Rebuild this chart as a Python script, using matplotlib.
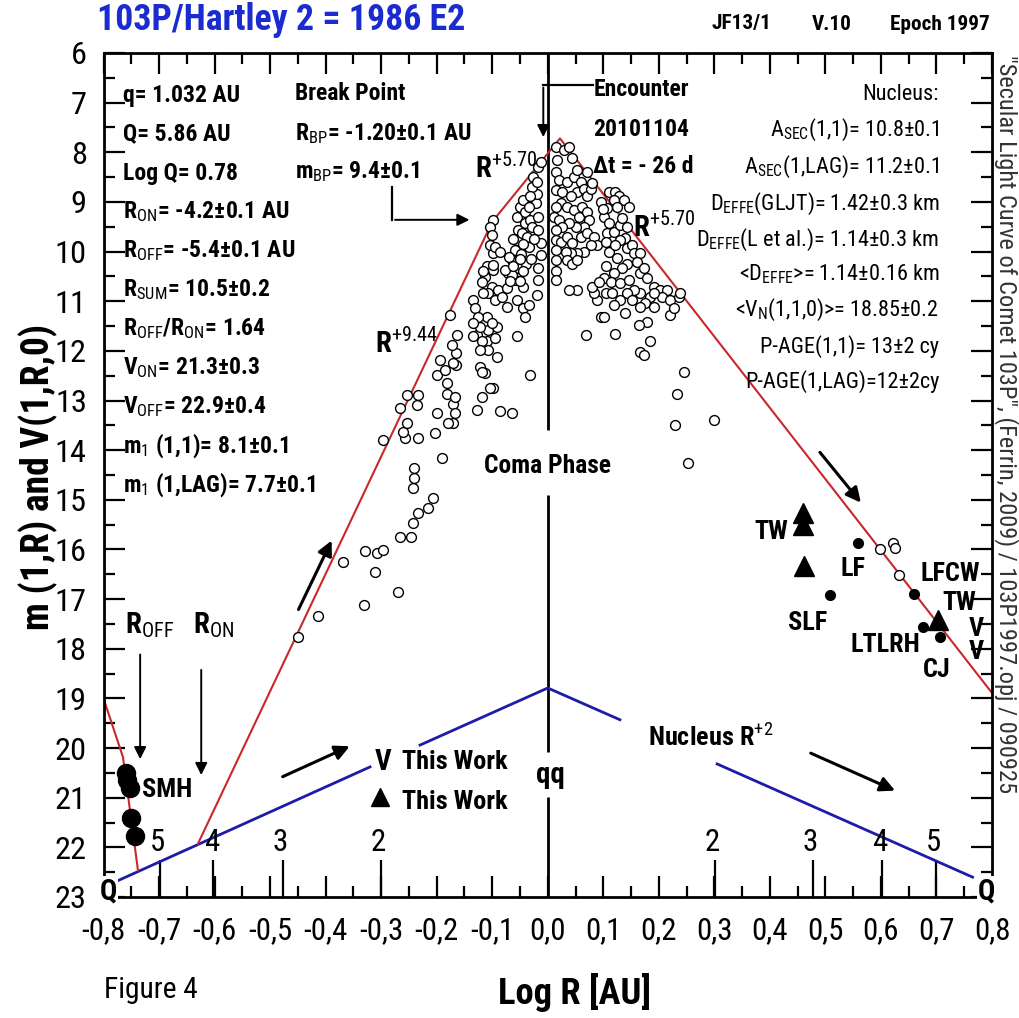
import math
import matplotlib
matplotlib.use("Agg")
import matplotlib.pyplot as plt
from matplotlib import font_manager
from matplotlib.ticker import MultipleLocator, FuncFormatter

# pick a narrow sans font if one is available (the original uses Arial Narrow)
entries = font_manager.fontManager.ttflist
names = {f.name for f in entries}
COND = ("ultra-condensed", "extra-condensed", "condensed", "semi-condensed")
FAMILY, STRETCH = "Liberation Sans", "normal"
for nm in ("Liberation Sans Narrow", "Arial Narrow", "Roboto Condensed",
           "Open Sans Condensed", "Noto Sans Condensed"):
    if nm in names:
        FAMILY, STRETCH = nm, "normal"
        break
else:
    for nm in ("Noto Sans", "Roboto", "Open Sans", "Liberation Sans", "DejaVu Sans"):
        cands = [f for f in entries if f.name == nm and str(f.stretch) in COND]
        if cands:
            FAMILY, STRETCH = nm, str(cands[0].stretch)
            break

plt.rcParams["font.family"] = [FAMILY, "DejaVu Sans"]
plt.rcParams["font.stretch"] = STRETCH
plt.rcParams["mathtext.fontset"] = "custom"
plt.rcParams["mathtext.rm"] = FAMILY
plt.rcParams["mathtext.it"] = FAMILY + ":italic"
plt.rcParams["mathtext.bf"] = FAMILY + ":bold"
plt.rcParams["mathtext.sf"] = FAMILY

# observed magnitudes (open circles), log R vs m(1,R)
obs_logr = [
    -0.449, -0.413, -0.369, -0.331, -0.329, -0.311, -0.308, -0.297, -0.269, -0.266,
    -0.246, -0.242, -0.233, -0.215, -0.207, -0.242, -0.240, -0.240, -0.191, -0.296,
    -0.233, -0.257, -0.260, -0.254, -0.266, -0.253, -0.233, -0.236, -0.203, -0.200,
    -0.200, -0.185, -0.194, -0.182, -0.182, -0.170, -0.167, -0.170, -0.179, -0.167,
    -0.165, -0.165, -0.164, -0.173, -0.176, -0.134, -0.131, -0.128, -0.122, -0.127,
    -0.119, -0.113, -0.098, -0.092, -0.110, -0.113, -0.101, -0.107, -0.110, -0.107,
    -0.110, -0.107, -0.095, -0.092, -0.095, -0.098, -0.122, -0.125, -0.134, -0.119,
    -0.098, -0.170, -0.134, -0.122, -0.119, -0.086, -0.065, -0.056, -0.044,
    -0.041, -0.032, -0.071, -0.104, -0.101, -0.044, -0.074, -0.028,
    -0.098, -0.104, -0.101, -0.104, -0.095, -0.086, -0.116, -0.098, -0.119, -0.089,
    -0.116, -0.083, -0.074, -0.065, -0.059, -0.056, -0.053, -0.056, -0.050, -0.044,
    -0.041, -0.041, -0.046, -0.037, -0.032, -0.028, -0.034, -0.022, -0.019, -0.028,
    -0.026, -0.017, -0.013, -0.019, -0.032, -0.034, -0.017, -0.017, -0.013, -0.013,
    -0.017, -0.017, -0.019, -0.053, -0.059, -0.065, -0.077, -0.056, -0.034,
    -0.062, -0.048, -0.040, -0.030, -0.045, -0.068, -0.025, -0.050,
    -0.070, -0.062, -0.050, -0.044,
    0.014, 0.029, 0.038, 0.044, 0.017, 0.014, 0.020, 0.014, 0.026, 0.035,
    0.047, 0.059, 0.071, 0.053, 0.053, 0.041, 0.065, 0.071, 0.023, 0.014,
    0.011, 0.020, 0.035, 0.047, 0.056, 0.062, 0.071, 0.074, 0.065, 0.050,
    0.038, 0.026, 0.014, 0.014, 0.023, 0.035, 0.044, 0.059, 0.071, 0.083,
    0.089, 0.077, 0.065, 0.053, 0.041, 0.032, 0.035, 0.044, 0.053, 0.014,
    0.014, 0.014, 0.014, 0.053, 0.077, 0.080,
    0.110, 0.122, 0.128, 0.119, 0.137, 0.146, 0.125, 0.107, 0.101, 0.110,
    0.107, 0.104, 0.110, 0.119, 0.131, 0.134, 0.143, 0.140, 0.131, 0.122,
    0.125, 0.143, 0.152, 0.155, 0.167, 0.161, 0.143, 0.134, 0.119, 0.104,
    0.101, 0.113, 0.131, 0.146, 0.167, 0.173, 0.179, 0.191, 0.203, 0.215,
    0.206, 0.221, 0.185, 0.167, 0.155, 0.143, 0.131, 0.152, 0.176,
    0.095, 0.100,
    0.038, 0.068, 0.095, 0.101, 0.122, 0.167, 0.173, 0.185, 0.179, 0.164,
    0.167, 0.139, 0.089, 0.083, 0.080, 0.092, 0.104, 0.116, 0.221, 0.227,
    0.236, 0.239, 0.245, 0.233, 0.230, 0.300, 0.253, 0.119, 0.191, 0.191,
    0.599, 0.622, 0.626, 0.632,
]
obs_mag = [
    17.76, 17.35, 16.25, 17.12, 16.04, 16.45, 16.08, 16.01, 16.85, 15.74,
    15.74, 15.47, 15.27, 15.17, 14.97, 14.77, 14.57, 14.36, 14.16, 13.79,
    13.76, 13.76, 13.63, 13.46, 13.16, 12.89, 12.89, 13.09, 13.66, 13.26,
    12.49, 12.38, 12.18, 12.65, 12.86, 13.06, 13.26, 13.46, 13.46, 12.92,
    12.28, 12.05, 11.68, 11.88, 11.28, 10.97, 11.14, 11.68, 12.32, 13.19,
    12.92, 12.45, 12.75, 12.12, 10.30, 10.51, 10.71, 10.84, 11.31, 11.58,
    11.81, 11.98, 10.97, 11.51, 11.75, 10.37, 11.51, 11.31, 11.44, 11.81,
    10.03, 12.25, 11.71, 11.98, 12.42, 13.22, 13.26, 11.71, 11.14,
    11.31, 12.49, 10.44, 12.75, 11.44, 10.71, 11.11, 9.63,
    9.36, 9.50, 9.67, 9.87, 9.90, 10.00, 10.40, 10.27, 10.61, 10.77,
    10.84, 10.91, 10.74, 10.17, 9.97, 9.77, 9.56, 9.30, 9.10, 8.96,
    9.20, 9.43, 9.63, 9.70, 9.36, 9.50, 9.90, 9.03, 8.83, 8.69,
    8.49, 8.29, 8.19, 8.59, 8.89, 9.10, 9.30, 9.56, 9.83, 10.07,
    10.34, 10.57, 10.87, 10.34, 10.57, 10.47, 10.37, 10.97, 11.07,
    9.75, 10.05, 10.25, 10.15, 9.85, 10.60, 9.75, 10.60,
    10.10, 10.30, 10.15, 10.40,
    7.89, 7.95, 7.89, 8.12, 8.16, 8.39, 8.56, 8.76, 8.79, 8.59,
    8.49, 8.59, 8.39, 8.36, 8.79, 8.89, 8.73, 8.89, 9.03, 9.10,
    9.30, 9.36, 9.10, 9.16, 9.30, 9.10, 9.20, 9.36, 9.50, 9.50,
    9.43, 9.50, 9.56, 9.77, 9.80, 9.70, 9.83, 9.70, 9.63, 9.70,
    9.87, 9.87, 10.00, 10.03, 10.03, 10.00, 10.17, 10.24, 10.17, 9.97,
    10.17, 10.40, 10.57, 10.77, 8.73, 8.62,
    8.79, 8.79, 8.89, 8.96, 8.96, 9.10, 9.10, 9.13, 9.30, 9.43,
    9.63, 9.80, 10.00, 9.60, 9.46, 9.33, 9.50, 9.73, 9.77, 9.87,
    10.13, 9.93, 9.87, 10.03, 10.03, 10.20, 10.24, 10.34, 10.44, 10.30,
    10.54, 10.61, 10.64, 10.57, 10.44, 10.34, 10.54, 10.71, 10.77, 10.77,
    10.91, 10.97, 10.91, 10.84, 10.77, 10.84, 10.97, 10.97, 11.04,
    9.00, 9.15,
    10.77, 11.68, 11.31, 11.31, 11.65, 12.02, 12.08, 11.81, 11.41, 11.48,
    11.11, 11.24, 10.97, 10.84, 10.71, 10.61, 10.84, 10.84, 11.28, 11.14,
    10.91, 10.84, 12.42, 12.86, 13.49, 13.39, 14.26, 11.07, 10.84, 11.11,
    16.00, 15.87, 15.97, 16.51,
]

# other observers (filled dots) and this work (triangles)
other_logr = [0.559, 0.509, 0.660, 0.675, 0.707]
other_mag = [15.87, 16.92, 16.90, 17.56, 17.76]
tw_logr = [0.459, 0.459, 0.461, 0.702]
tw_mag = [15.26, 15.50, 16.33, 17.42]
smh_logr = [-0.759, -0.757, -0.753, -0.750, -0.744]
smh_mag = [20.50, 20.65, 20.80, 21.40, 21.77]

# fitted laws
fit_logr = [-0.630, -0.100, 0.022, 0.800]
fit_mag = [21.93, 9.40, 7.72, 18.89]
off_logr = [-0.800, -0.765, -0.738]
off_mag = [19.00, 20.18, 22.46]
nuc_logr = [-0.776, -0.320, float("nan"), -0.230, 0.000, 0.130, float("nan"), 0.305, 0.765]
nuc_mag = [22.68, 20.38, float("nan"), 19.94, 18.79, 19.43, float("nan"), 20.32, 22.60]

# R scale marks on the bottom axis
r_marks = [2, 3, 4, 5]

RED = "#c8282a"
BLUE = "#1c1ca8"
SIDE_TEXT = '"Secular Light Curve of Comet 103P", (Ferrin, 2009) / 103P1997.opj / 090925'


def px(x, y):
    return x / 1019, 1 - y / 1018


fig = plt.figure(figsize=(10.19, 10.18), dpi=100)
renderer = fig.canvas.get_renderer()


def fit(text, target, size=18, **kw):
    # font size that makes `text` about `target` pixels wide
    t = fig.text(0.5, 0.5, text, fontsize=size, **kw)
    w = t.get_window_extent(renderer).width
    t.remove()
    return size * target / w


LEFT = fit("q= 1.032 AU", 117, fontweight="bold")
RIGHT = fit("P-AGE(1,LAG)=12±2cy", 195)
TICK = fit("-0,8", 44)
LBL = fit("LTLRH", 70, fontweight="bold")
COMA = fit("Coma Phase", 127, fontweight="bold")
YLAB = fit("m (1,R) and V(1,R,0)", 306, fontweight="bold")
XLAB = fit("Log R [AU]", 153, fontweight="bold")
TITLE = fit("103P/Hartley 2 = 1986 E2", 368, fontweight="bold")
SIDE = fit(SIDE_TEXT, 740)
FIG4 = fit("Figure 4", 94)
TOPR = fit("Epoch 1997", 100, fontweight="bold")

ax = fig.add_axes([103.5 / 1019, 1 - 897 / 1018, (992 - 103.5) / 1019, (897 - 53) / 1018])
ax.set_xlim(-0.8, 0.8)
ax.set_ylim(23, 6)

ax.xaxis.set_major_locator(MultipleLocator(0.1))
ax.xaxis.set_minor_locator(MultipleLocator(0.05))
ax.yaxis.set_major_locator(MultipleLocator(1))
ax.yaxis.set_minor_locator(MultipleLocator(0.5))
ax.xaxis.set_major_formatter(FuncFormatter(
    lambda v, p: ("-" if v < -1e-9 else "") + f"{abs(v):.1f}".replace(".", ",")))
ax.tick_params(which="both", direction="in", top=True, right=True, width=1.6)
ax.tick_params(which="major", length=15)
ax.tick_params(which="minor", length=8)
ax.tick_params(axis="x", which="major", labelsize=TICK, pad=14)
ax.tick_params(axis="y", which="major", labelsize=TICK * 1.05, pad=12)
for s in ax.spines.values():
    s.set_linewidth(2)

# R scale ticks and labels
for r in r_marks:
    for sgn in (-1, 1):
        lx = sgn * math.log10(r)
        ax.plot([lx, lx], [23, 22.25], color="k", lw=1.6, solid_capstyle="butt")
        ax.text(lx - 0.004, 21.9, str(r), ha="center", va="center", fontsize=TICK)

# comet vertical line (perihelion) with gaps
ax.vlines([0, 0, 0], [6, 14.9, 20.98], [13.6, 20.08, 23], color="k", lw=2)

ax.plot(nuc_logr, nuc_mag, color=BLUE, lw=2)
ax.plot(fit_logr, fit_mag, color=RED, lw=1.5)
ax.plot(off_logr, off_mag, color=RED, lw=1.5)

ax.scatter(obs_logr, obs_mag, s=50, facecolors="white", edgecolors="k", linewidths=1.0, zorder=3)
ax.plot(other_logr, other_mag, "o", color="k", ms=7, zorder=4)
ax.plot(tw_logr, tw_mag, "^", color="k", ms=14, zorder=4)
ax.plot(smh_logr, smh_mag, "o", color="k", ms=13, zorder=4)

# arrows
arrow_kw = dict(arrowstyle="-|>", color="k", lw=2.2, mutation_scale=22)
for start, end in [((-0.451, 17.26), (-0.387, 15.77)),
                   ((0.487, 14.0), (0.567, 15.1)),
                   ((-0.482, 20.6), (-0.352, 19.94)),
                   ((0.469, 20.08), (0.63, 20.88))]:
    ax.annotate("", xy=end, xytext=start, arrowprops=arrow_kw)
thin_kw = dict(arrowstyle="-|>", color="k", lw=1.4, mutation_scale=18)
ax.annotate("", xy=(-0.734, 20.28), xytext=(-0.734, 18.06), arrowprops=thin_kw)
ax.annotate("", xy=(-0.624, 20.6), xytext=(-0.624, 18.37), arrowprops=thin_kw)
# encounter arrow
ax.plot([-0.008, 0.082], [6.64, 6.64], color="k", lw=1.6)
ax.annotate("", xy=(-0.008, 7.75), xytext=(-0.008, 6.64), arrowprops=thin_kw)
# break point arrow
ax.plot([-0.28, -0.28], [8.7, 9.36], color="k", lw=1.6)
ax.annotate("", xy=(-0.136, 9.36), xytext=(-0.28, 9.36), arrowprops=thin_kw)

# left info block
left_lines = [
    "q= 1.032 AU", "Q= 5.86 AU", "Log Q= 0.78",
    r"R$_{\mathrm{ON}}$= -4.2±0.1 AU", r"R$_{\mathrm{OFF}}$= -5.4±0.1 AU",
    r"R$_{\mathrm{SUM}}$= 10.5±0.2", r"R$_{\mathrm{OFF}}$/R$_{\mathrm{ON}}$= 1.64",
    r"V$_{\mathrm{ON}}$= 21.3±0.3", r"V$_{\mathrm{OFF}}$= 22.9±0.4",
    r"m$_{\mathrm{1}}$ (1,1)= 8.1±0.1", r"m$_{\mathrm{1}}$ (1,LAG)= 7.7±0.1",
]
for i, t in enumerate(left_lines):
    ax.text(-0.765, 6.98 + i * 0.785, t, fontsize=LEFT, fontweight="bold", va="baseline", ha="left")

bp_lines = ["Break Point", r"R$_{\mathrm{BP}}$= -1.20±0.1 AU", r"m$_{\mathrm{BP}}$= 9.4±0.1"]
for t, y in zip(bp_lines, [6.95, 7.75, 8.52]):
    ax.text(-0.455, y, t, fontsize=LEFT, fontweight="bold", va="baseline")

enc_lines = ["Encounter", "20101104", "Δt = - 26 d"]
for t, y in zip(enc_lines, [6.87, 7.67, 8.42]):
    ax.text(0.082, y, t, fontsize=LEFT, fontweight="bold", va="baseline")

right_lines = [
    "Nucleus:", r"A$_{\mathrm{SEC}}$(1,1)= 10.8±0.1", r"A$_{\mathrm{SEC}}$(1,LAG)= 11.2±0.1",
    r"D$_{\mathrm{EFFE}}$(GLJT)= 1.42±0.3 km", r"D$_{\mathrm{EFFE}}$(L et al.)= 1.14±0.3 km",
    r"<D$_{\mathrm{EFFE}}$>= 1.14±0.16 km", r"<V$_{\mathrm{N}}$(1,1,0)>= 18.85±0.2",
    "P-AGE(1,1)= 13±2 cy", "P-AGE(1,LAG)=12±2cy",
]
for t, y in zip(right_lines, [6.95, 7.67, 8.42, 9.16, 9.89, 10.59, 11.30, 12.04, 12.75]):
    ax.text(0.705, y, t, fontsize=RIGHT, va="baseline", ha="right")

ax.text(-0.131, 8.52, r"R$^{+5.70}$", fontsize=LBL * 1.1, fontweight="bold", va="baseline")
ax.text(0.154, 9.71, r"R$^{+5.70}$", fontsize=LBL * 1.1, fontweight="bold", va="baseline")
ax.text(-0.311, 12.04, r"R$^{+9.44}$", fontsize=LBL * 1.1, fontweight="bold", va="baseline")
ax.text(0.0, 14.32, "Coma Phase", fontsize=COMA, fontweight="bold", ha="center", va="center",
        bbox=dict(fc="white", ec="none", pad=1))
ax.text(0.004, 20.55, "qq", fontsize=LBL * 1.1, fontweight="bold", ha="center", va="center")
ax.text(0.181, 19.96, r"Nucleus R$^{+2}$", fontsize=LBL, fontweight="bold", va="baseline")
ax.text(-0.311, 20.28, "V", fontsize=LBL * 1.1, fontweight="bold", va="center")
ax.text(-0.262, 20.28, "This Work", fontsize=LBL, fontweight="bold", va="center")
ax.plot([-0.302], [20.98], "^", color="k", ms=13)
ax.text(-0.262, 21.09, "This Work", fontsize=LBL, fontweight="bold", va="center")
ax.text(-0.731, 20.84, "SMH", fontsize=LBL, fontweight="bold", va="center")
ax.text(-0.761, 17.52, r"R$_{\mathrm{OFF}}$", fontsize=LBL * 1.1, fontweight="bold", va="center")
ax.text(-0.639, 17.52, r"R$_{\mathrm{ON}}$", fontsize=LBL * 1.1, fontweight="bold", va="center")

for t, x, y, ha in [("TW", 0.432, 15.65, "right"), ("LF", 0.527, 16.4, "left"),
                    ("SLF", 0.468, 17.48, "center"), ("LFCW", 0.671, 16.5, "left"),
                    ("TW", 0.711, 17.08, "left"), ("V", 0.758, 17.6, "left"),
                    ("V", 0.758, 18.07, "left"), ("LTLRH", 0.545, 17.92, "left"),
                    ("CJ", 0.675, 18.43, "left")]:
    ax.text(x, y, t, fontsize=LBL, fontweight="bold", ha=ha, va="center")

for x in (-0.791, 0.79):
    ax.text(x, 22.88, "Q", fontsize=LBL * 1.1, fontweight="bold", ha="center", va="center",
            bbox=dict(fc="white", ec="none", pad=0.5), zorder=6, clip_on=False)

fig.text(*px(38, 477), "m (1,R) and V(1,R,0)", fontsize=YLAB, fontweight="bold",
         rotation=90, ha="center", va="center")
fig.text(*px(97, 20), "103P/Hartley 2 = 1986 E2", fontsize=TITLE, fontweight="bold",
         color="#1a2ccf", va="center")
fig.text(*px(712, 24), "JF13/1", fontsize=TOPR, fontweight="bold", va="center")
fig.text(*px(812, 24), "V.10", fontsize=TOPR, fontweight="bold", va="center")
fig.text(*px(890, 24), "Epoch 1997", fontsize=TOPR, fontweight="bold", va="center")
fig.text(*px(1006, 55), SIDE_TEXT, fontsize=SIDE, rotation=270, ha="center", va="top",
         color="#333333")
fig.text(*px(575, 992), "Log R [AU]", fontsize=XLAB, fontweight="bold", ha="center", va="center")
fig.text(*px(104, 990), "Figure 4", fontsize=FIG4, va="center")

fig.savefig("out.png", dpi=100)
